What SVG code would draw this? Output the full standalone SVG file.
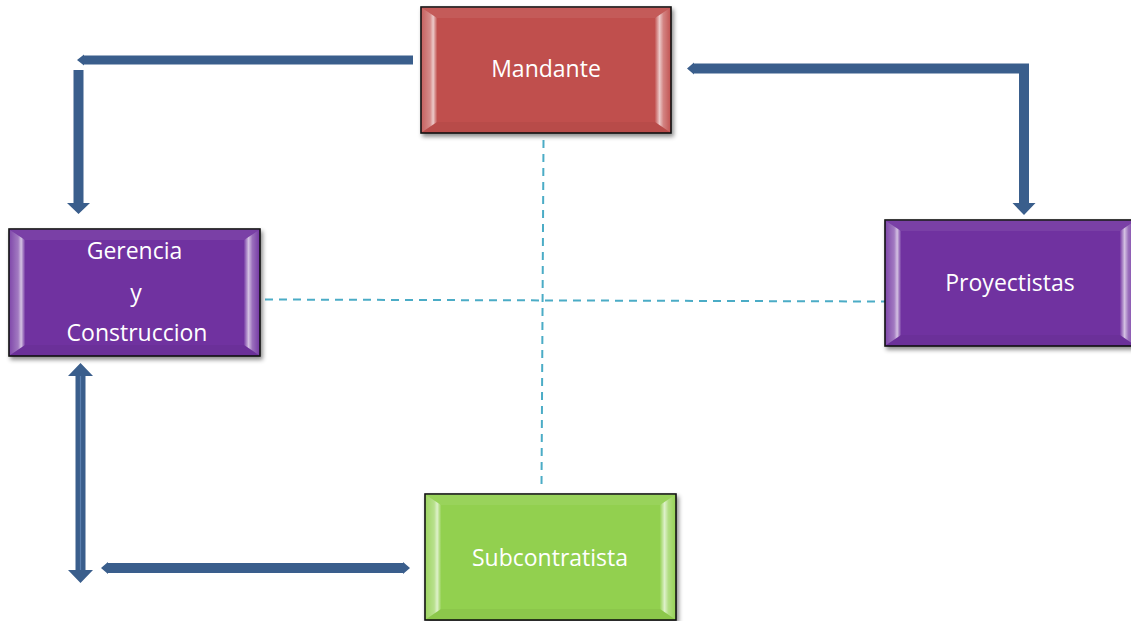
<svg xmlns="http://www.w3.org/2000/svg" width="1131" height="621" viewBox="0 0 1131 621">
  <defs>
    <style>
      .box { stroke: #111; stroke-width: 1.6; filter: url(#shadow); }
      .red { fill: #c0504d; }
      .purple { fill: #7030a0; }
      .green { fill: #92d050; }
      .bevL { fill: url(#bevelL); }
      .bevR { fill: url(#bevelR); }
      .bevT { fill: #fff; fill-opacity: 0.07; }
      .bevB { fill: #000; fill-opacity: 0.04; }
      .label { font-family: "Open Sans", "Liberation Sans", sans-serif; font-size: 23px; fill: #fff; text-anchor: middle; }
      .arrow { fill: #3a5e8c; }
      .dash { stroke: #4bacc6; stroke-width: 2; stroke-dasharray: 8 6; fill: none; }
    </style>
    <filter id="shadow" x="-10%" y="-10%" width="125%" height="130%">
      <feDropShadow dx="2" dy="3" stdDeviation="2" flood-color="#000" flood-opacity="0.45"/>
    </filter>
    <linearGradient id="bevelL" x1="0" y1="0" x2="1" y2="0">
      <stop offset="0" stop-color="#fff" stop-opacity="0.12"/>
      <stop offset="0.55" stop-color="#fff" stop-opacity="0.35"/>
      <stop offset="0.75" stop-color="#fff" stop-opacity="0.7"/>
      <stop offset="1" stop-color="#fff" stop-opacity="0.05"/>
    </linearGradient>
    <linearGradient id="bevelR" x1="1" y1="0" x2="0" y2="0">
      <stop offset="0" stop-color="#fff" stop-opacity="0.05"/>
      <stop offset="0.45" stop-color="#fff" stop-opacity="0.3"/>
      <stop offset="0.7" stop-color="#fff" stop-opacity="0.7"/>
      <stop offset="1" stop-color="#fff" stop-opacity="0.05"/>
    </linearGradient>
  </defs>

  <!-- dashed cross between the four parties -->
  <g id="connectors-dashed">
    <line class="dash" x1="543.5" y1="140" x2="541.5" y2="487"/>
    <line class="dash" x1="265" y1="299.5" x2="885" y2="301.5"/>
  </g>

  <!-- block arrows -->
  <g id="connectors">
    <!-- Mandante to Gerencia y Construccion -->
    <path class="arrow" d="M413,55.5 L84,55.5 L84,54.5 L77,60 L84,65.5 L84,64.5 L413,64.5 Z"/>
    <path class="arrow" d="M73.5,70 L83.5,70 L83.5,203 L90,203 L78.5,214 L67,203 L73.5,203 Z"/>
    <!-- Mandante to Proyectistas -->
    <path class="arrow" d="M1029,63.5 L694,63.5 L694,62.5 L687,68.5 L694,74.5 L694,73.5 L1019,73.5 L1019,203 L1012.5,203 L1024,215 L1035.5,203 L1029,203 Z"/>
    <!-- Gerencia y Construccion to Subcontratista (double-headed) -->
    <path class="arrow" d="M80.5,363 L93,376 L85.5,376 L85.5,570 L93,570 L80.5,583 L68,570 L75.5,570 L75.5,376 L68,376 Z"/>
    <line x1="80.5" y1="376" x2="80.5" y2="570" stroke="#5b80b0" stroke-width="1.2"/>
    <path class="arrow" d="M101,568 L108,562 L108,563 L403,563 L403,562 L410,568 L403,574 L403,573 L108,573 L108,574 Z"/>
  </g>

  <g id="node-mandante">
    <rect class="box red" x="421" y="7" width="250" height="126"/>
    <polygon class="bevT" points="421,7 671,7 655,18 437,18"/>
    <polygon class="bevB" points="421,133 671,133 655,122 437,122"/>
    <polygon class="bevL" points="421.8,7.8 437,18 437,122 421.8,132.2"/>
    <polygon class="bevR" points="670.2,7.8 655,18 655,122 670.2,132.2"/>
    <text class="label" x="546" y="77">Mandante</text>
  </g>

  <g id="node-gerencia">
    <rect class="box purple" x="9" y="229" width="251" height="127"/>
    <polygon class="bevT" points="9,229 260,229 244,240 25,240"/>
    <polygon class="bevB" points="9,356 260,356 244,345 25,345"/>
    <polygon class="bevL" points="9.8,229.8 25,240 25,345 9.8,355.2"/>
    <polygon class="bevR" points="259.2,229.8 244,240 244,345 259.2,355.2"/>
    <text class="label" x="134.5" y="259">Gerencia</text>
    <text class="label" x="136" y="301">y</text>
    <text class="label" x="137" y="341">Construccion</text>
  </g>

  <g id="node-proyectistas">
    <rect class="box purple" x="885" y="220" width="251" height="126"/>
    <polygon class="bevT" points="885,220 1136,220 1120,231 901,231"/>
    <polygon class="bevB" points="885,346 1136,346 1120,335 901,335"/>
    <polygon class="bevL" points="885.8,220.8 901,231 901,335 885.8,345.2"/>
    <polygon class="bevR" points="1135.2,220.8 1120,231 1120,335 1135.2,345.2"/>
    <text class="label" x="1010" y="291">Proyectistas</text>
  </g>

  <g id="node-subcontratista">
    <rect class="box green" x="425" y="494" width="251" height="126"/>
    <polygon class="bevT" points="425,494 676,494 660,505 441,505"/>
    <polygon class="bevB" points="425,620 676,620 660,609 441,609"/>
    <polygon class="bevL" points="425.8,494.8 441,505 441,609 425.8,619.2"/>
    <polygon class="bevR" points="675.2,494.8 660,505 660,609 675.2,619.2"/>
    <text class="label" x="550" y="566">Subcontratista</text>
  </g>
</svg>
